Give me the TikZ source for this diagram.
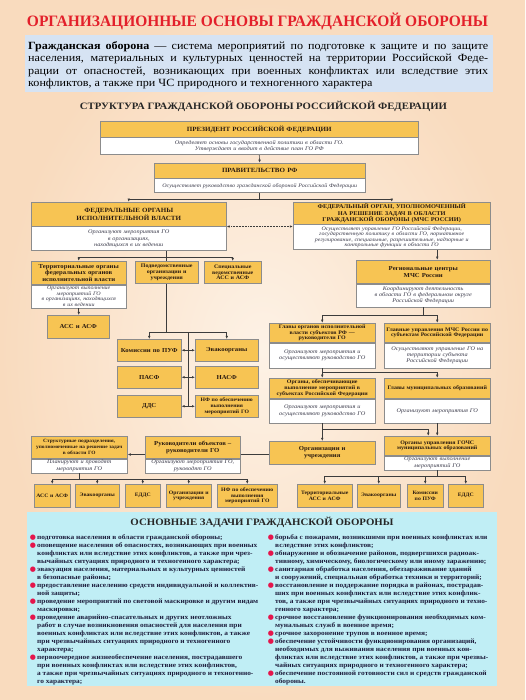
\documentclass[tikz,border=0pt]{standalone}
\usepackage{fontspec}
\setmainfont[FakeStretch=1.1]{Liberation Serif}
\newfontfamily\gbIt[FakeStretch=1.12]{Liberation Serif}
\newfontfamily\gbDejavu{DejaVu Sans}
\usetikzlibrary{arrows.meta,fit,calc}
\definecolor{bgA}{HTML}{FDF2E6}
\definecolor{bgB}{HTML}{F9DBBE}
\definecolor{titred}{HTML}{E3202B}
\definecolor{defblue}{HTML}{D6E3F3}
\definecolor{hdrc}{HTML}{F7C453}
\definecolor{brd}{HTML}{8C8C8C}
\definecolor{linec}{HTML}{3C3C3C}
\definecolor{panel}{HTML}{C0EEF5}
\definecolor{bul}{HTML}{E5154B}
\definecolor{txt}{HTML}{1C1C3C}
\definecolor{htxt}{HTML}{2A1A10}
\definecolor{btxt}{HTML}{3A3A4A}
\newcommand\gbCfont{\fontsize{6.4}{6.8}\selectfont\bfseries}
\newcommand\gbMfont{\fontsize{5.8}{6.7}\selectfont\bfseries}
\newcommand\gbHfont{\fontsize{6.1}{6.7}\selectfont\bfseries}
\newcommand\gbTfont{\fontsize{5.4}{5.9}\selectfont\bfseries}
\newcommand\gbUfont{\fontsize{4.9}{5.9}\selectfont\bfseries}
\newcommand\gbXfont{\fontsize{5.2}{5.8}\selectfont\bfseries}
\newcommand\gbBfont{\gbIt\fontsize{5.6}{6.4}\selectfont\itshape}
\newcommand\gbSfont{\gbIt\fontsize{5.35}{5.5}\selectfont\itshape}
\newcommand\gbLfont{\fontsize{6.7}{8}\selectfont\bfseries}
\newcommand\gbBul{\llap{\textcolor{bul}{\gbDejavu\fontsize{7}{8}\selectfont ●}\hspace{1.2pt}}}
\tikzset{
  hdr/.style={draw=brd, fill=hdrc, line width=0.5pt, inner xsep=1pt, inner ysep=0.5pt,
    align=center, anchor=north west, text=htxt},
  bdy/.style={draw=brd, fill=white, line width=0.5pt, inner xsep=1pt, inner ysep=0.5pt,
    align=center, anchor=north west, text=btxt},
  con/.style={draw=linec, line width=0.55pt},
  arr/.style={con, -{Latex[length=3.2pt,width=2.6pt]}},
  dbl/.style={con, {Latex[length=3pt,width=2.4pt]}-{Latex[length=3pt,width=2.4pt]}},
  dotarr/.style={con, densely dotted, {Latex[length=3pt,width=2.4pt]}-{Latex[length=3pt,width=2.4pt]}}
}
% box with orange header and white body
\newcommand\gbBox[9][\gbBfont]{%
  \pgfmathsetmacro\gbtw{#4-2}%
  \node[hdr, font=#7, minimum width=#4pt, minimum height=#5pt, text width=\gbtw pt] (#2-h) at (#3) {#8};
  \node[bdy, font=#1, minimum width=#4pt, minimum height=#6pt, text width=\gbtw pt] (#2-b) at (#2-h.south west) {#9};
  \node[fit=(#2-h)(#2-b), inner sep=0pt] (#2) {};}
% orange-only box
\newcommand\gbOne[6][\gbHfont]{%
  \pgfmathsetmacro\gbtw{#4-2}%
  \node[hdr, font=#1, minimum width=#4pt, minimum height=#5pt, text width=\gbtw pt] (#2) at (#3) {#6};}
\begin{document}
\begin{tikzpicture}[x=1pt, y=-1pt]
\useasboundingbox (0,0) rectangle (525,700);
\shade[inner color=bgA, outer color=bgB] (0,0) rectangle (525,700);

% title
\node[inner sep=0pt, text=titred] (title) at (257.5,21.8)
  {\resizebox{461pt}{13.5pt}{\bfseries ОРГАНИЗАЦИОННЫЕ ОСНОВЫ ГРАЖДАНСКОЙ ОБОРОНЫ}};

% definition
\fill[defblue] (25,35) rectangle (493,92);
\node[anchor=north west, inner sep=0pt, align=left, text=black,
  font=\fontsize{11}{12.4}\selectfont] (defn) at (28,41.5)
  {\makebox[460pt][s]{\textbf{Гражданская оборона} — система мероприятий по подготовке к защите и по защите}\\
   \makebox[460pt][s]{населения, материальных и культурных ценностей на территории Российской Феде-}\\
   \makebox[460pt][s]{рации от опасностей, возникающих при военных конфликтах или вследствие этих}\\
   конфликтов, а также при ЧС природного и техногенного характера};

% subtitle
\node[inner sep=0pt, text=black!85] (sub) at (263.5,106)
  {\resizebox{367pt}{!}{\bfseries СТРУКТУРА ГРАЖДАНСКОЙ ОБОРОНЫ РОССИЙСКОЙ ФЕДЕРАЦИИ}};

% boxes
\gbBox{pres}{100,121}{318}{16}{17}{\gbCfont}{ПРЕЗИДЕНТ РОССИЙСКОЙ ФЕДЕРАЦИИ}
  {Определяет основы государственной политики в области ГО.\\Утверждает и вводит в действие план ГО РФ}
\gbBox[\gbSfont]{gov}{154,163}{211}{15}{14}{\gbCfont}{ПРАВИТЕЛЬСТВО РФ}
  {Осуществляет руководство гражданской обороной Российской Федерации}
\gbBox{fed}{31,202}{195}{24}{24}{\gbCfont}{ФЕДЕРАЛЬНЫЕ ОРГАНЫ\\ИСПОЛНИТЕЛЬНОЙ ВЛАСТИ}
  {Организуют мероприятия ГО\\в организациях,\\находящихся в их ведении}
\gbBox[\gbSfont]{mchs}{293,202}{197}{22}{25}{\gbMfont}
  {ФЕДЕРАЛЬНЫЙ ОРГАН, УПОЛНОМОЧЕННЫЙ\\НА РЕШЕНИЕ ЗАДАЧ В ОБЛАСТИ\\ГРАЖДАНСКОЙ ОБОРОНЫ (МЧС РОССИИ)}
  {Осуществляет управление ГО Российской Федерации,\\государственную политику в области ГО, нормативное\\регулирование, специальные, разрешительные, надзорные и\\контрольные функции в области ГО}
\gbBox{reg}{356,260}{134}{23}{23}{\gbHfont}{Региональные центры\\МЧС России}
  {Координируют деятельность\\в области ГО в федеральном округе\\Российской Федерации}
\gbBox[\gbSfont]{ter}{31,261}{95}{23}{23}{\gbHfont}{Территориальные органы\\федеральных органов\\исполнительной власти}
  {Организуют выполнение\\мероприятий ГО\\в организациях, находящихся\\в их ведении}
\gbOne[\gbTfont]{pod}{135,261}{63}{22}{Подведомственные\\организации и\\учреждения}
\gbOne[\gbTfont]{spec}{204,261}{57}{22}{Специальные\\ведомственные\\АСС и АСФ}
\gbOne{acs}{47,315}{62}{23}{АСС и АСФ}
\gbOne{kpuf}{117,339}{64}{22}{Комиссии по ПУФ}
\gbOne{evak}{195,339}{63}{22}{Эвакоорганы}
\gbOne{pasf}{117,366}{64}{22}{ПАСФ}
\gbOne{nasf}{195,366}{63}{22}{НАСФ}
\gbOne{dds}{117,395}{64}{22}{ДДС}
\gbOne[\gbXfont]{nfa}{195,395}{63}{22}{НФ по обеспечению\\выполнения\\мероприятий ГО}
\gbBox{glavy}{269,323}{106}{19}{25}{\gbTfont}{Главы органов исполнительной\\власти субъектов РФ —\\руководители ГО}
  {Организуют мероприятия и\\осуществляют руководство ГО}
\gbBox{gu}{384,323}{106}{19}{25}{\gbTfont}{Главные управления МЧС России по\\субъектам Российской Федерации}
  {Осуществляют управление ГО на\\территории субъекта\\Российской Федерации}
\gbBox{orgs}{269,378}{106}{20}{24}{\gbTfont}{Органы, обеспечивающие\\выполнение мероприятий в\\субъектах Российской Федерации}
  {Организуют мероприятия и\\осуществляют руководство ГО}
\gbBox{mun}{384,378}{106}{20}{24}{\gbTfont}{Главы муниципальных образований}
  {Организуют мероприятия ГО}
\gbBox{strc}{31,436}{96}{22}{14}{\gbUfont}{Структурные подразделения,\\уполномоченные на решение задач\\в области ГО}
  {Планируют и проводят\\мероприятия ГО}
\gbBox{ruk}{145,436}{95}{22}{14}{\gbHfont}{Руководители объектов –\\руководители ГО}
  {Организуют мероприятия ГО,\\руководят ГО}
\gbOne{orgu}{269,441}{106}{23}{Организации и\\учреждения}
\gbBox{gochs}{384,436}{106}{19}{14}{\gbTfont}{Органы управления ГОЧС\\муниципальных образований}
  {Организуют выполнение\\мероприятий ГО}
\gbOne[\gbXfont]{ba}{34,484}{36}{23}{АСС и АСФ}
\gbOne[\gbXfont]{bb}{75,484}{44}{23}{Эвакоорганы}
\gbOne[\gbXfont]{bc}{125,484}{35}{23}{ЕДДС}
\gbOne[\gbXfont]{bd}{166,484}{45}{23}{Организации и\\учреждения}
\gbOne[\gbXfont]{be}{217,484}{60}{23}{НФ по обеспечению\\выполнения\\мероприятий ГО}
\gbOne[\gbXfont]{bf}{297,484}{55}{23}{Территориальные\\АСС и АСФ}
\gbOne[\gbXfont]{bg}{357,484}{43}{23}{Эвакоорганы}
\gbOne[\gbXfont]{bh}{407,484}{36}{23}{Комиссии\\по ПУФ}
\gbOne[\gbXfont]{bi}{448,484}{35}{23}{ЕДДС}

% connectors
\draw[arr] (pres.south) -- (gov.north);
\coordinate (j1) at ($(gov.south)+(0,6)$);
\draw[con] (gov.south) -- (j1);
\draw[arr] (j1) -| (fed.north);
\draw[arr] (j1) -| (mchs.north);
\draw[dotarr] (fed.east) -- (fed.east -| mchs.west);
\coordinate (r1) at ($(reg.north)+(14,0)$);
\draw[arr] (r1 |- mchs.south) -- (r1);
\coordinate (j2) at ($(reg.south)+(0,8)$);
\draw[con] (reg.south) -- (j2);
\draw[arr] (j2) -| (glavy.north);
\draw[arr] (j2) -| (gu.north);
\coordinate (j3) at ($(glavy.south)+(0,4)$);
\draw[con] (glavy.south) -- (j3);
\draw[arr] (j3) -| (orgs.north);
\draw[arr] (j3) -| (mun.north);
\coordinate (j4) at ($(orgs.south)+(0,6)$);
\draw[arr] (orgs.south) -- (orgu.north);
\coordinate (g1) at ($(gochs.north)+(-9,0)$);
\draw[arr] (j4) -| (g1);
\draw[arr] (mun.south) -- (gochs.north);
\draw[arr] (ruk.west) -- (ruk.west -| strc.east);
\draw[con] (ruk.east) -- (ruk.east -| orgu.west);
\coordinate (j5) at ($(strc.south)+(0,6)$);
\draw[con] (strc.south) -- (j5);
\foreach \n in {ba,bb,bc,bd,be} \draw[arr] (j5) -| (\n.north);
\coordinate (j6) at ($(gochs.south)+(0,6)$);
\draw[con] (gochs.south) -- (j6);
\foreach \n in {bf,bg,bh,bi} \draw[arr] (j6) -| (\n.north);
\coordinate (j7) at ($(fed.south -| pod.north)+(0,6)$);
\draw[con] (fed.south -| pod.north) -- (pod.north);
\draw[arr] (j7) -| (ter.north);
\draw[arr] (j7) -| (spec.north);
\draw[arr] (ter.south) -- (ter.south |- acs.north);
\coordinate (j8) at ($(pod.south)+(0,49)$);
\draw[con] (pod.south) -- (j8);
\draw[arr] (j8) -| (kpuf.north);
\draw[arr] (j8) -| (evak.north);
\coordinate (m1) at ($(kpuf.east)!0.5!(evak.west)$);
\coordinate (m3) at ($(dds.east)!0.5!(nfa.west)$);
\draw[con] (m1 |- j8) -- (m3);
\draw[dbl] (kpuf.east) -- (evak.west);
\draw[dbl] (pasf.east) -- (nasf.west);
\draw[dbl] (dds.east) -- (nfa.west);

% tasks panel
\fill[panel] (27,512) rectangle (497,686);
\node[inner sep=0pt, text=black!85] (tasks) at (262,522)
  {\resizebox{263pt}{!}{\bfseries ОСНОВНЫЕ ЗАДАЧИ ГРАЖДАНСКОЙ ОБОРОНЫ}};
\node[anchor=north west, inner sep=0pt, align=left, font=\gbLfont, text=txt] (tl) at (37,534.5)
{\gbBul подготовка населения в области гражданской обороны;\\
\gbBul оповещение населения об опасностях, возникающих при военных\\
конфликтах или вследствие этих конфликтов, а также при чрез-\\
вычайных ситуациях природного и техногенного характера;\\
\gbBul эвакуация населения, материальных и культурных ценностей\\
в безопасные районы;\\
\gbBul предоставление населению средств индивидуальной и коллектив-\\
ной защиты;\\
\gbBul проведение мероприятий по световой маскировке и другим видам\\
маскировки;\\
\gbBul проведение аварийно-спасательных и других неотложных\\
работ в случае возникновения опасностей для населения при\\
военных конфликтах или вследствие этих конфликтов, а также\\
при чрезвычайных ситуациях природного и техногенного\\
характера;\\
\gbBul первоочередное жизнеобеспечение населения, пострадавшего\\
при военных конфликтах или вследствие этих конфликтов,\\
а также при чрезвычайных ситуациях природного и техногенно-\\
го характера;};
\node[anchor=north west, inner sep=0pt, align=left, font=\gbLfont, text=txt] (tr) at (275,534.5)
{\gbBul борьба с пожарами, возникшими при военных конфликтах или\\
вследствие этих конфликтов;\\
\gbBul обнаружение и обозначение районов, подвергшихся радиоак-\\
тивному, химическому, биологическому или иному заражению;\\
\gbBul санитарная обработка населения, обеззараживание зданий\\
и сооружений, специальная обработка техники и территорий;\\
\gbBul восстановление и поддержание порядка в районах, пострадав-\\
ших при военных конфликтах или вследствие этих конфлик-\\
тов, а также при чрезвычайных ситуациях природного и техно-\\
генного характера;\\
\gbBul срочное восстановление функционирования необходимых ком-\\
мунальных служб в военное время;\\
\gbBul срочное захоронение трупов в военное время;\\
\gbBul обеспечение устойчивости функционирования организаций,\\
необходимых для выживания населения при военных кон-\\
фликтах или вследствие этих конфликтов, а также при чрезвы-\\
чайных ситуациях природного и техногенного характера;\\
\gbBul обеспечение постоянной готовности сил и средств гражданской\\
обороны.};
\end{tikzpicture}
\end{document}
